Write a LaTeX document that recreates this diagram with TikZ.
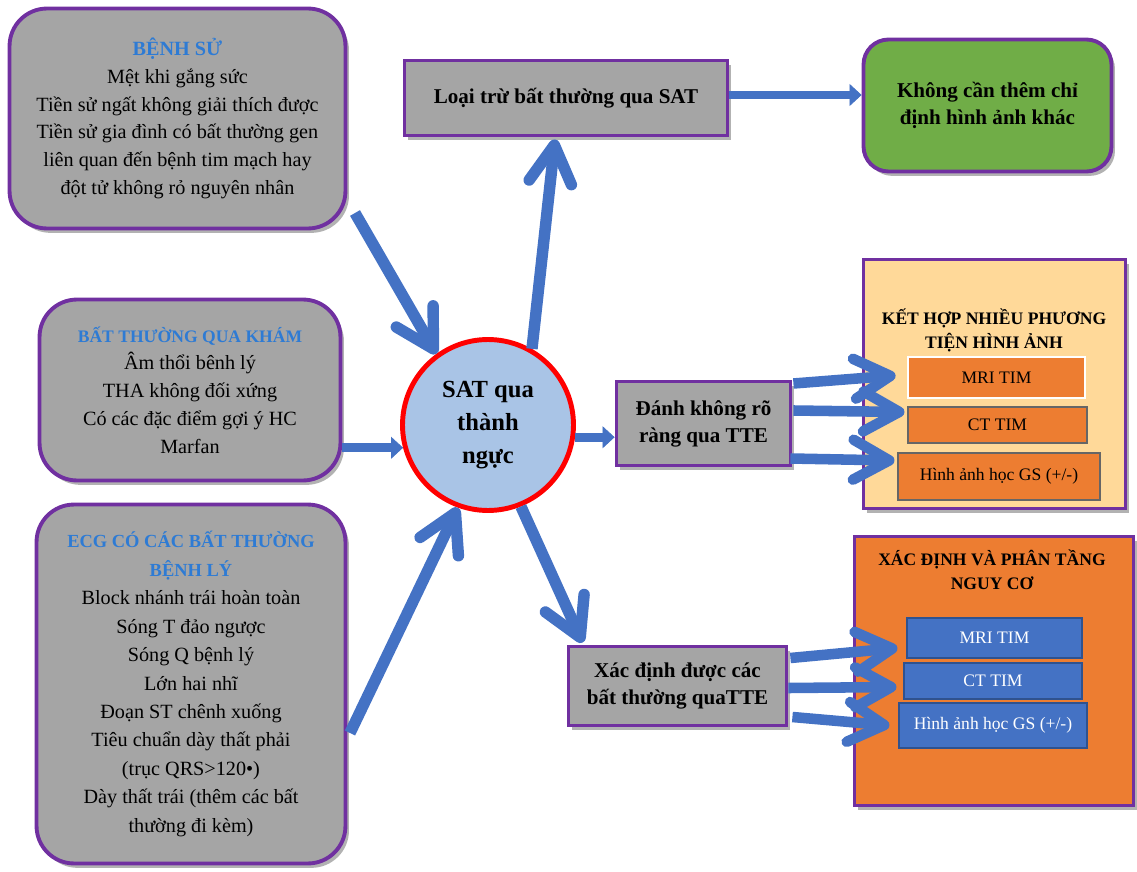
\documentclass[tikz,border=0pt]{standalone}
\usepackage{fontspec}
\setmainfont{Liberation Serif}
\usetikzlibrary{arrows.meta,shadows,calc}
\definecolor{purp}{HTML}{7030A0}
\definecolor{boxgray}{HTML}{A5A5A5}
\definecolor{arrblue}{HTML}{4472C4}
\definecolor{headblue}{HTML}{2E7BD4}
\definecolor{circfill}{HTML}{A9C4E6}
\definecolor{greenfill}{HTML}{70AD47}
\definecolor{peach}{HTML}{FFD999}
\definecolor{orangefill}{HTML}{ED7D31}
\definecolor{bluefill}{HTML}{4472C4}
\definecolor{bluedark}{HTML}{2F528F}
\newcommand{\hdtxt}[2]{{\fontsize{#1}{15}\selectfont\bfseries\color{headblue}#2}}
\tikzset{
  shad/.style={drop shadow={shadow xshift=2pt,shadow yshift=-2.5pt,fill=black,opacity=0.3}},
  rbox/.style={draw=purp,line width=2.2pt,fill=boxgray,rounded corners=0.75cm,align=center,inner sep=0pt,shad,
    font=\fontsize{11.5}{15.8}\selectfont},
  sbox/.style={draw=purp,line width=2.2pt,fill=boxgray,align=center,inner sep=0pt,shad,
    font=\fontsize{12}{15.3}\selectfont\bfseries},
  obox/.style={draw=gray!80!black,line width=0.6pt,fill=orangefill,inner sep=0pt,font=\fontsize{10}{12}\selectfont},
  bbox/.style={draw=bluedark,line width=0.6pt,fill=bluefill,inner sep=0pt,text=white,font=\fontsize{10}{12}\selectfont},
  bigarr/.style={draw=arrblue,line width=6.5pt,-{Straight Barb[length=0.75cm,width=0.85cm,round]}},
  midarr/.style={draw=arrblue,line width=6pt,-{Straight Barb[length=0.72cm,width=0.8cm,round]}},
  blockarr/.style={draw=arrblue,line width=5pt,-{Triangle[length=0.24cm,width=0.44cm,line width=0.4pt]}}
}
\begin{document}
\begin{tikzpicture}[x=0.02cm,y=-0.02cm]
\useasboundingbox (0,0) rectangle (1137,872);

% left boxes
\node[rbox,minimum width=6.72cm,minimum height=4.40cm] (bs) at (177.5,118.5)
  {\hdtxt{11.5}{BỆNH SỬ}\\Mệt khi gắng sức\\Tiền sử ngất không giải thích được\\Tiền sử gia đình có bất thường gen\\liên quan đến bệnh tim mạch hay\\đột tử không rỏ nguyên nhân};
\node[rbox,minimum width=6.02cm,minimum height=3.62cm] (kham) at (190,390)
  {\hdtxt{10}{BẤT THƯỜNG QUA KHÁM}\\Âm thổi bênh lý\\THA không đối xứng\\Có các đặc điểm gợi ý HC\\Marfan};
\node[rbox,minimum width=6.18cm,minimum height=7.18cm,font=\fontsize{11.5}{16.2}\selectfont] (ecg) at (191,684)
  {\hdtxt{10.5}{ECG CÓ CÁC BẤT THƯỜNG}\\\hdtxt{10.5}{BỆNH LÝ}\\Block nhánh trái hoàn toàn\\Sóng T đảo ngược\\Sóng Q bệnh lý\\Lớn hai nhĩ\\Đoạn ST chênh xuống\\Tiêu chuẩn dày thất phải\\(trục QRS>120•)\\Dày thất trái (thêm các bất\\thường đi kèm)};

% centre
\node[circle,draw=red,line width=2.8pt,fill=circfill,minimum size=3.42cm,inner sep=0pt,align=center,
  font=\fontsize{14}{18.7}\selectfont\bfseries] (sat) at (488,425) {SAT qua\\thành\\ngực};

% top
\node[sbox,minimum width=6.46cm,minimum height=1.50cm] (loai) at (566,98) {Loại trừ bất thường qua SAT};
\node[draw=purp,line width=2.2pt,fill=greenfill,rounded corners=0.5cm,align=center,inner sep=0pt,shad,
  font=\fontsize{12}{15.5}\selectfont\bfseries,minimum width=4.96cm,minimum height=2.64cm] (green) at (987.5,105.5)
  {Không cần thêm chỉ\\định hình ảnh khác};

% middle right
\node[sbox,minimum width=3.48cm,minimum height=1.68cm] (danh) at (703.5,423.5) {Đánh không rõ\\ràng qua TTE};
\node[draw=purp,line width=2.2pt,fill=peach,minimum width=5.24cm,minimum height=4.98cm,shad] (peachbox) at (994.5,384) {};
\node[align=center,font=\fontsize{10}{13.6}\selectfont\bfseries] (peachtitle) at (994,330) {KẾT HỢP NHIỀU PHƯƠNG\\TIỆN HÌNH ẢNH};
\node[obox,draw=white,line width=1.6pt,minimum width=3.54cm,minimum height=0.82cm] (mri1) at (996.5,377.5) {MRI TIM};
\node[obox,minimum width=3.58cm,minimum height=0.72cm] (ct1) at (997.5,425) {CT TIM};
\node[obox,minimum width=4.04cm,minimum height=0.94cm] (h1) at (999,476.5) {Hình ảnh học GS (+/-)};

% bottom right
\node[sbox,minimum width=4.36cm,minimum height=1.58cm] (xac) at (677.5,686) {Xác định được các\\bất thường quaTTE};
\node[draw=purp,line width=2.2pt,fill=orangefill,minimum width=5.58cm,minimum height=5.38cm,shad] (orbox) at (994,671) {};
\node[align=center,font=\fontsize{10}{13.6}\selectfont\bfseries] (ortitle) at (992,570) {XÁC ĐỊNH VÀ PHÂN TẦNG\\NGUY CƠ};
\node[bbox,minimum width=3.5cm,minimum height=0.8cm] (mri2) at (994.5,638) {MRI TIM};
\node[bbox,minimum width=3.56cm,minimum height=0.72cm] (ct2) at (993,681) {CT TIM};
\node[bbox,minimum width=3.76cm,minimum height=0.9cm] (h2) at (993,725.5) {Hình ảnh học GS (+/-)};

% connector end points
\coordinate (bsout) at (355,213);
\coordinate (ecgout) at (350,733);
\coordinate (loaiin) at ($(loai.south)+(-11,2)$);
\coordinate (xacin) at ($(xac.north west)+(16,-2)$);
\coordinate (d1) at ($(danh.east)+(1,-40)$);
\coordinate (d2) at ($(danh.east)+(1,-13)$);
\coordinate (d3) at ($(danh.east)+(-2,35)$);
\coordinate (x1) at ($(xac.east)+(2,-28)$);
\coordinate (x2) at ($(xac.east)+(0,2)$);
\coordinate (x3) at ($(xac.east)+(4,31)$);

% connectors
\draw[bigarr] (bsout) -- (sat.126);
\draw[bigarr] (ecgout) -- (sat.-110);
\draw[bigarr] (sat.60) -- (loaiin);
\draw[bigarr] (sat.-68) -- (xacin);
\draw[blockarr] (kham.east |- sat.195) -- (sat.195);
\draw[blockarr] (sat.-8) -- (sat.-8 -| danh.west);
\draw[blockarr] (loai.east |- 0,95) -- (green.west |- 0,95);

\draw[midarr] (d1) -- ($(mri1.west)+(-11,-2)$);
\draw[midarr] (d2) -- ($(ct1.west)+(-3,-13)$);
\draw[midarr] (d3) -- ($(h1.west)+(-3,-16)$);
\draw[midarr] (x1) -- ($(mri2.west)+(-9,10)$);
\draw[midarr] (x2) -- ($(ct2.west)+(-7,6)$);
\draw[midarr] (x3) -- ($(h2.west)+(-9,0)$);
\end{tikzpicture}
\end{document}
